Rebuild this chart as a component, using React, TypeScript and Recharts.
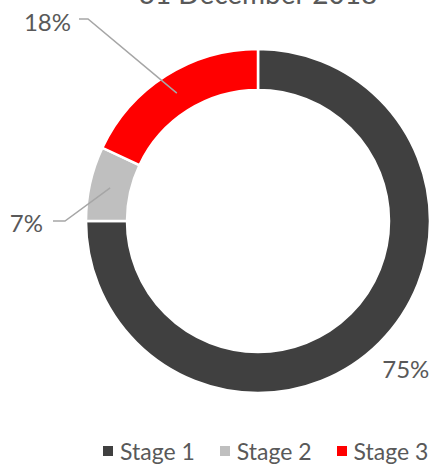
import { Legend, Pie, PieChart, Cell } from "recharts";

const STAGES = ["Stage 1", "Stage 2", "Stage 3"];
const SHARES = [75, 7, 18];
const COLORS = ["#404040", "#bfbfbf", "#ff0000"];
const TITLE = "31 December 2018";

const FONT = "Lato, 'Open Sans', sans-serif";
const TEXT = "#595959";

const data = STAGES.map((name, i) => ({ name, value: SHARES[i] }));

// label placement relative to the pie centre (Excel-like manual positions)
const LABEL_LAYOUT = [
  { text: null, radius: 209 },
  { elbow: [-193, 0], tail: -205, text: [-215, 1] },
  { elbow: [-170, -202], tail: -179, text: [-187, -200] },
];

const RAD = Math.PI / 180;

function renderLabel(props: any) {
  const { cx, cy, midAngle, innerRadius, outerRadius, index, value } = props;
  const cfg: any = LABEL_LAYOUT[index];
  if (!cfg.elbow) {
    const x = cx + cfg.radius * Math.cos(-midAngle * RAD);
    const y = cy + cfg.radius * Math.sin(-midAngle * RAD);
    return (
      <text x={x} y={y} fill={TEXT} fontSize={24} fontFamily={FONT} textAnchor="middle" dominantBaseline="central">
        {value}%
      </text>
    );
  }
  const r = (innerRadius + outerRadius) / 2;
  const sx = cx + r * Math.cos(-midAngle * RAD);
  const sy = cy + r * Math.sin(-midAngle * RAD);
  const ex = cx + cfg.elbow[0];
  const ey = cy + cfg.elbow[1];
  return (
    <g>
      <polyline points={`${sx},${sy} ${ex},${ey} ${cx + cfg.tail},${ey}`} fill="none" stroke="#a6a6a6" strokeWidth={1.5} />
      <text x={cx + cfg.text[0]} y={cy + cfg.text[1]} fill={TEXT} fontSize={24} fontFamily={FONT} textAnchor="end" dominantBaseline="central">
        {value}%
      </text>
    </g>
  );
}

function LegendContent() {
  return (
    <div style={{ display: "flex", alignItems: "center", fontFamily: FONT, fontSize: 23, color: TEXT, whiteSpace: "nowrap" }}>
      {STAGES.map((s, i) => (
        <div key={s} style={{ display: "flex", alignItems: "center", flexShrink: 0, marginRight: i < STAGES.length - 1 ? 25 : 0 }}>
          <span style={{ width: 10, height: 10, background: COLORS[i], marginRight: 7, display: "inline-block" }} />
          <span>{s}</span>
        </div>
      ))}
    </div>
  );
}

export default function App() {
  return (
    <div style={{ position: "absolute", left: 0, top: 0, width: 437, height: 469, background: "#fff", overflow: "hidden" }}>
      <PieChart width={437} height={469} margin={{ top: 0, right: 0, bottom: 0, left: 0 }}>
        <text x={258} y={4} fill={TEXT} fontSize={28} fontFamily={FONT} textAnchor="middle">
          {TITLE}
        </text>
        <Pie
          data={data}
          dataKey="value"
          nameKey="name"
          cx={258}
          cy={221}
          innerRadius={131}
          outerRadius={172}
          startAngle={90}
          endAngle={-270}
          stroke="#ffffff"
          strokeWidth={2.5}
          label={renderLabel}
          labelLine={false}
          isAnimationActive={false}
        >
          {data.map((d, i) => (
            <Cell key={d.name} fill={COLORS[i]} />
          ))}
        </Pie>
        <Legend content={<LegendContent />} wrapperStyle={{ position: "absolute", left: 103, top: 437, width: 334 }} />
      </PieChart>
    </div>
  );
}
